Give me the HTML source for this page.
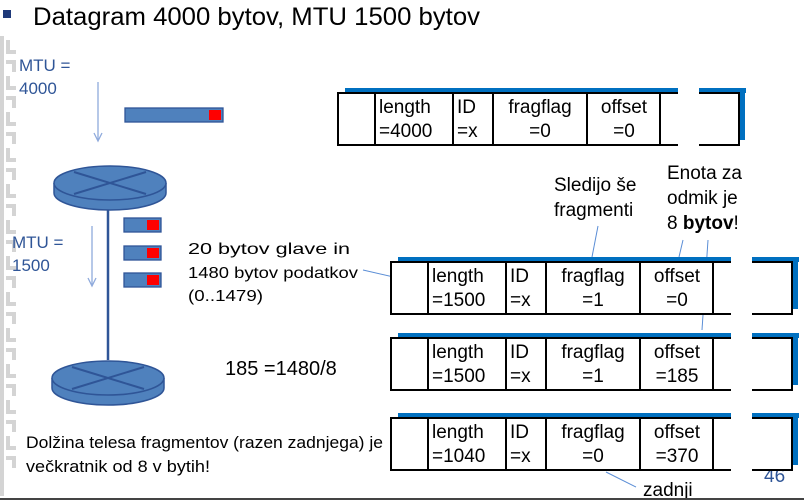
<!DOCTYPE html>
<html><head><meta charset="utf-8"><style>
html,body{margin:0;padding:0;background:#fff;}
svg{display:block;font-family:"Liberation Sans",sans-serif;}
</style></head><body>
<svg width="804" height="501" viewBox="0 0 804 501">
<g fill="#d4d4d4">
  <rect x="0" y="36" width="4" height="460"/>
  <g id="pat">
    <rect x="6" y="40" width="4" height="14"/><rect x="6" y="50" width="10" height="4"/>
    <rect x="6" y="60" width="10" height="4"/><rect x="12" y="60" width="4" height="12"/>
  </g>
  <use href="#pat" y="36"/><use href="#pat" y="72"/><use href="#pat" y="108"/><use href="#pat" y="144"/>
  <use href="#pat" y="180"/><use href="#pat" y="216"/><use href="#pat" y="252"/><use href="#pat" y="288"/>
  <use href="#pat" y="324"/><use href="#pat" y="360"/><use href="#pat" y="396"/>
</g>
<rect x="3" y="10" width="8" height="8" fill="#1f3a7a"/>
<text x="33" y="25" font-size="25" fill="#000" textLength="447" lengthAdjust="spacingAndGlyphs">Datagram 4000 bytov, MTU 1500 bytov</text>

<g fill="#2f5597" font-size="17">
  <text x="19" y="71">MTU =</text><text x="19" y="94">4000</text>
  <text x="12" y="248">MTU =</text><text x="12" y="271">1500</text>
</g>
<g stroke="#8faadc" stroke-width="1.3" fill="none">
  <line x1="98" y1="82" x2="98" y2="140"/><polyline points="94,133 98,141 102,133"/>
  <line x1="92" y1="226" x2="92" y2="285"/><polyline points="88,278 92,286 96,278"/>
</g>
<line x1="108" y1="205" x2="108" y2="360" stroke="#2f5597" stroke-width="2.5"/>

<g stroke="#2f5597" stroke-width="1.5" fill="#4f81bd">
  <path d="M54,183 v10 a56,17 0 0 0 112,0 v-10"/>
  <ellipse cx="110" cy="183" rx="56" ry="17"/>
  <line x1="74" y1="172" x2="146" y2="194" stroke-width="2"/><line x1="74" y1="194" x2="146" y2="172" stroke-width="2"/>
</g>
<g stroke="#2f5597" stroke-width="1.5" fill="#4f81bd">
  <path d="M52,378 v10 a56,17 0 0 0 112,0 v-10"/>
  <ellipse cx="108" cy="378" rx="56" ry="17"/>
  <line x1="72" y1="367" x2="144" y2="389" stroke-width="2"/><line x1="72" y1="389" x2="144" y2="367" stroke-width="2"/>
</g>

<g>
  <rect x="125" y="108" width="98" height="14" fill="#4f81bd" stroke="#2f5597" stroke-width="1.3"/>
  <rect x="209" y="110" width="12" height="10" fill="#f00"/>
</g>
<g>
  <rect x="124" y="218" width="37" height="14" fill="#4f81bd" stroke="#2f5597" stroke-width="1.3"/><rect x="147" y="220" width="12" height="10" fill="#f00"/>
  <rect x="124" y="246" width="37" height="14" fill="#4f81bd" stroke="#2f5597" stroke-width="1.3"/><rect x="147" y="248" width="12" height="10" fill="#f00"/>
  <rect x="124" y="273" width="37" height="14" fill="#4f81bd" stroke="#2f5597" stroke-width="1.3"/><rect x="147" y="275" width="12" height="10" fill="#f00"/>
</g>

<g font-size="16" fill="#000">
  <text x="188" y="254" textLength="162" lengthAdjust="spacingAndGlyphs">20 bytov glave in</text>
  <text x="188" y="278" textLength="170" lengthAdjust="spacingAndGlyphs">1480 bytov podatkov</text>
  <text x="188" y="301" textLength="75" lengthAdjust="spacingAndGlyphs">(0..1479)</text>
  <text x="225" y="375" font-size="20">185 =1480/8</text>
  <text x="26" y="448" font-size="17" textLength="357" lengthAdjust="spacingAndGlyphs">Dolžina telesa fragmentov (razen zadnjega) je</text>
  <text x="26" y="472" font-size="17" textLength="184" lengthAdjust="spacingAndGlyphs">večkratnik od 8 v bytih!</text>
  <text x="554" y="191" font-size="19">Sledijo še</text>
  <text x="554" y="216" font-size="19">fragmenti</text>
  <text x="667" y="179" font-size="19">Enota za</text>
  <text x="667" y="204" font-size="19">odmik je</text>
  <text x="667" y="229" font-size="19">8 <tspan font-weight="bold">bytov</tspan>!</text>
  <text x="643" y="496" font-size="19">zadnji</text>
  <text x="764" y="482" font-size="19" fill="#2f5597">46</text>
</g>
<g stroke="#5b8ed6" stroke-width="1">
  <line x1="363" y1="270" x2="433" y2="286"/>
  <line x1="598" y1="226" x2="592" y2="257"/>
  <line x1="683" y1="240" x2="679" y2="257"/>
  <line x1="708" y1="240" x2="702" y2="330"/>
  <line x1="606" y1="472" x2="636" y2="487"/>
</g>

<g id="boxes"></g>
<line x1="0" y1="499" x2="804" y2="499" stroke="#444" stroke-width="2"/>
</svg>
<script>
const boxTops=[93,262,338,418];
const boxLefts=[338,391,391,391];
const lengths=["=4000","=1500","=1500","=1040"];
const flags=["=0","=1","=1","=0"];
const offsets=["=0","=0","=185","=370"];
const g=document.getElementById('boxes');
const NS='http://www.w3.org/2000/svg';
function mk(tag,attrs,parent){const e=document.createElementNS(NS,tag);for(const k in attrs)e.setAttribute(k,attrs[k]);parent.appendChild(e);return e;}
boxTops.forEach((t,i)=>{
  const L=boxLefts[i],W=401,H=52;
  const grp=mk('g',{},g);
  
  
  mk('rect',{x:L+7,y:t-5,width:W,height:5,fill:'#0070c0'},grp);
  mk('rect',{x:L+W,y:t-5,width:6,height:H,fill:'#0070c0'},grp);
  mk('rect',{x:L,y:t,width:W,height:H,fill:'#fff',stroke:'#000','stroke-width':2},grp);
  [37,115,155,249,322].forEach(d=>mk('line',{x1:L+d,y1:t,x2:L+d,y2:t+H,stroke:'#000','stroke-width':2},grp));
  mk('rect',{x:L+340,y:t-6,width:21,height:H+8,fill:'#fff'},grp);
  const txt=(s,x,y,a)=>{const e=mk('text',{x:L+x,y:t+y,'font-size':19,'text-anchor':a||'start'},grp);e.textContent=s;};
  txt('length',41,20);txt(lengths[i],41,44);
  txt('ID',119,20);txt('=x',119,44);
  txt('fragflag',202,20,'middle');txt(flags[i],202,44,'middle');
  txt('offset',286,20,'middle');txt(offsets[i],286,44,'middle');
});
</script>
</body></html>
